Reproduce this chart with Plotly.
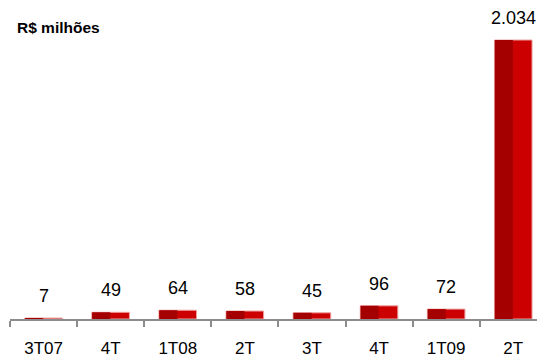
import plotly.graph_objects as go

categories = ["3T07", "4T", "1T08", "2T", "3T", "4T", "1T09", "2T"]
values = [7, 49, 64, 58, 45, 96, 72, 2034]
unit_label = "R$ milhões"

x = list(range(len(categories)))
labels = [f"{v:,}".replace(",", ".") for v in values]

fig = go.Figure()
fig.add_trace(go.Bar(
    x=x, y=values, width=0.56,
    marker=dict(color="#cc0000", line=dict(color="#eea0a0", width=1)),
    hoverinfo="skip", showlegend=False,
))
fig.add_trace(go.Bar(
    x=x, y=values, width=0.27, offset=-0.275,
    marker=dict(color="#a50000", line=dict(width=0)),
    hoverinfo="skip", showlegend=False,
))

for xi, v, t in zip(x, values, labels):
    fig.add_annotation(x=xi, y=v, text=t, showarrow=False, yanchor="middle",
                       yshift=22, font=dict(size=18, color="#000000",
                                            family="Liberation Sans, Arial"))

fig.update_layout(
    width=537, height=358,
    margin=dict(l=10, r=0, t=10, b=39, autoexpand=False),
    paper_bgcolor="white", plot_bgcolor="white",
    barmode="overlay",
    font=dict(family="Liberation Sans, Arial", color="#000000"),
    title=dict(text=f"<b>{unit_label}</b>", x=17/537, xref="container",
               xanchor="left", y=1-28/358, yanchor="middle",
               font=dict(size=15.5, color="#000000")),
    xaxis=dict(
        range=[-0.5, -0.5 + 527/67.1],
        tickmode="array", tickvals=x, ticktext=categories,
        ticks="", ticklabelstandoff=13, automargin=False,
        tickfont=dict(size=17, color="#000000"),
        showline=True, linecolor="#8c8c8c", linewidth=2,
        showgrid=False, zeroline=False,
        minor=dict(tickmode="array", tickvals=[i - 0.5 for i in x],
                   ticks="outside", ticklen=6, tickwidth=2, tickcolor="#8c8c8c",
                   showgrid=False),
    ),
    yaxis=dict(range=[0, 2034 * 309 / 279], visible=False, showgrid=False,
               zeroline=False, automargin=False),
)

fig.write_html("out.html")
